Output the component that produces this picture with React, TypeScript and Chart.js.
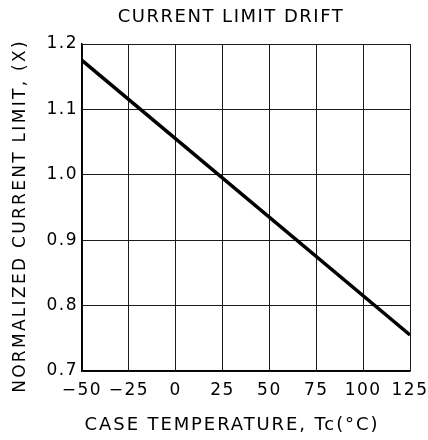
import React, { useEffect, useRef } from "react";
import { Chart, registerables } from "chart.js";

Chart.register(...registerables);

const temperatureC = [-50, 125];
const normalizedLimit = [1.175, 0.755];
const xTickValues = [-50, -25, 0, 25, 50, 75, 100, 125];
const yTickValues = [0.7, 0.8, 0.9, 1.0, 1.1, 1.2];

const chartTitle = "CURRENT LIMIT DRIFT";
const xTitle = "CASE TEMPERATURE, Tc(°C)";
const yTitle = "NORMALIZED CURRENT LIMIT, (X)";

const FONT = "'DejaVu Sans', 'Liberation Sans', sans-serif";

const spacingPlugin = {
  id: "letterSpacing",
  beforeDraw(chart: any) {
    chart.ctx.letterSpacing = "1.5px";
  },
  afterDraw(chart: any) {
    chart.ctx.letterSpacing = "0px";
  },
};

const titlesPlugin = {
  id: "titles",
  afterDraw(chart: any) {
    const ctx = chart.ctx;
    ctx.save();
    ctx.fillStyle = "#000";
    ctx.textAlign = "center";
    ctx.textBaseline = "middle";
    ctx.letterSpacing = "1.5px";
    ctx.font = `18px ${FONT}`;
    ctx.fillText(chartTitle, 231, 17);
    ctx.font = `18px ${FONT}`;
    ctx.letterSpacing = "1.9px";
    ctx.fillText(xTitle, 232, 425);
    ctx.font = `17px ${FONT}`;
    ctx.letterSpacing = "2.3px";
    ctx.translate(21, 216);
    ctx.rotate(-Math.PI / 2);
    ctx.fillText(yTitle, 0, 0);
    ctx.restore();
  },
};

function zeroPad(s: any) {
  s.paddingLeft = 0;
  s.paddingRight = 0;
  s.paddingTop = 0;
  s.paddingBottom = 0;
}

export default function App() {
  const ref = useRef<HTMLCanvasElement | null>(null);
  useEffect(() => {
    if (!ref.current) return;
    const chart = new Chart(ref.current, {
      type: "line",
      data: {
        datasets: [
          {
            data: temperatureC.map((t, i) => ({ x: t, y: normalizedLimit[i] })),
            borderColor: "#000",
            borderWidth: 3.5,
            pointRadius: 0,
            fill: false,
            tension: 0,
          },
        ],
      },
      plugins: [spacingPlugin, titlesPlugin],
      options: {
        responsive: false,
        animation: false,
        layout: { padding: { left: 0, right: 18, top: 44, bottom: 0 } },
        plugins: {
          legend: { display: false },
          tooltip: { enabled: false },
          title: { display: false },
        },
        scales: {
          x: {
            type: "linear",
            min: xTickValues[0],
            max: xTickValues[xTickValues.length - 1],
            afterBuildTicks: (s: any) => {
              s.ticks = xTickValues.map((v) => ({ value: v }));
            },
            afterFit: (s: any) => {
              s.height = 69;
              zeroPad(s);
            },
            ticks: {
              color: "#000",
              font: { family: FONT, size: 17 },
              padding: 9,
              autoSkip: false,
              maxRotation: 0,
              callback: (v: any) => String(v).replace("-", "\u2212"),
            },
            grid: { color: "#1a1a1a", lineWidth: 1, drawTicks: false },
            border: { color: "#000", width: 1.5 },
            title: { display: false },
          },
          y: {
            type: "linear",
            min: yTickValues[0],
            max: yTickValues[yTickValues.length - 1],
            afterBuildTicks: (s: any) => {
              s.ticks = yTickValues.map((v) => ({ value: v }));
            },
            afterFit: (s: any) => {
              s.width = 82;
              zeroPad(s);
            },
            ticks: {
              color: "#000",
              font: { family: FONT, size: 17 },
              padding: 4,
              callback: (v: any) => Number(v).toFixed(1),
            },
            grid: { color: "#1a1a1a", lineWidth: 1, drawTicks: false },
            border: { color: "#000", width: 1.5 },
            title: { display: false },
          },
        },
      },
    } as any);
    return () => chart.destroy();
  }, []);
  return (
    <div style={{ position: "absolute", left: 0, top: 0, width: 428, height: 440, background: "#fff" }}>
      <canvas ref={ref} width={428} height={440} style={{ display: "block" }} />
    </div>
  );
}
